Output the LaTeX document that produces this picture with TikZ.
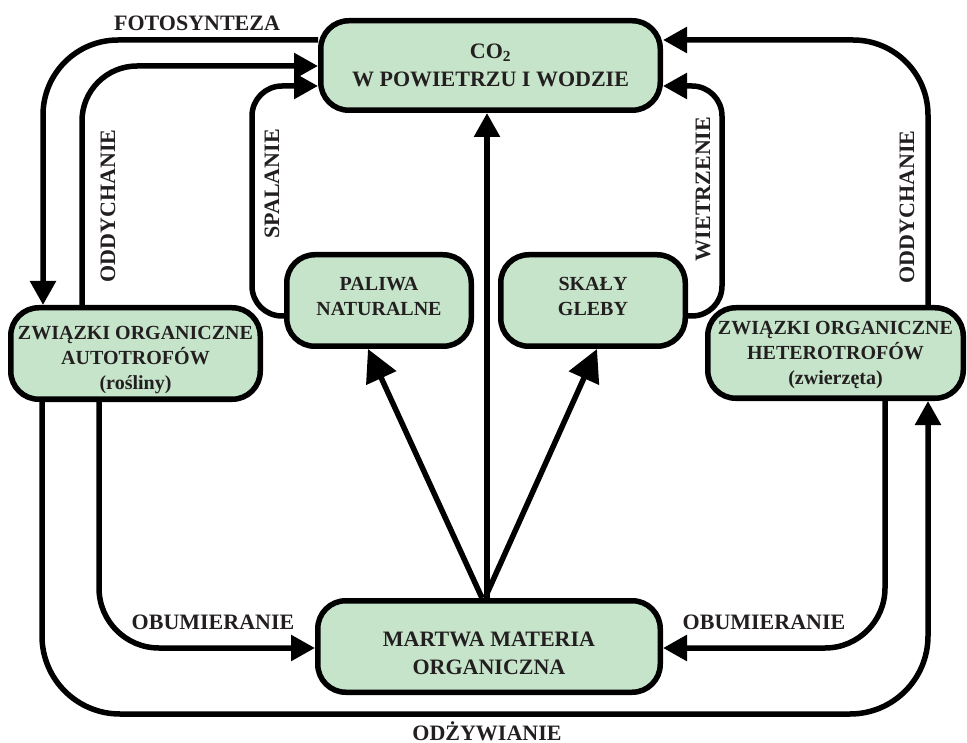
\documentclass[tikz,border=0pt]{standalone}
\usepackage{fontspec}
\setmainfont{Liberation Serif}
\usetikzlibrary{arrows.meta,backgrounds}
\definecolor{boxgreen}{RGB}{198,228,202}
\definecolor{ink}{RGB}{35,31,32}
\newcommand\dnstrut[1]{\rule{0pt}{#1}}
\newcommand\upstrut[1]{\rule[-#1]{0pt}{#1}}
\begin{document}
\begin{tikzpicture}[x=1pt,y=-1pt,
  box/.style={draw=black, fill=boxgreen, line width=5.5pt, rounded corners=28pt, inner sep=0pt, align=center, text=ink, font=\bfseries\fontsize{22}{28}\selectfont},
  smallbox/.style={box, font=\bfseries\fontsize{20}{25}\selectfont},
  conn/.style={draw=black, line width=5.5pt, -{Triangle[length=24pt,width=25pt]}},
  bigtip/.style={-{Triangle[length=32pt,width=32pt]}},
  lab/.style={text=ink, font=\bfseries\fontsize{22}{26}\selectfont, inner sep=0pt},
]
\useasboundingbox (0,0) rectangle (967,743);

\node[box, minimum width=339.5pt, minimum height=89.5pt] (co2) at (490.5,65.5) {CO\textsubscript{2}\\W POWIETRZU I WODZIE};
\node[smallbox, minimum width=184.5pt, minimum height=91.5pt] (paliwa) at (379,300.5) {PALIWA\\NATURALNE\upstrut{9pt}};
\node[smallbox, minimum width=184.5pt, minimum height=91.5pt] (skaly) at (593,300.5) {SKAŁY\\GLEBY\upstrut{9pt}};
\node[smallbox, minimum width=249.5pt, minimum height=91.5pt] (auto) at (135.5,353.5) {\dnstrut{26pt}ZWIĄZKI ORGANICZNE\\AUTOTROFÓW\\(rośliny)};
\node[smallbox, minimum width=255.5pt, minimum height=90.5pt] (hetero) at (835.5,353) {\dnstrut{18pt}ZWIĄZKI ORGANICZNE\\HETEROTROFÓW\\(zwierzęta)};
\node[box, minimum width=342.5pt, minimum height=91.5pt] (martwa) at (489,646.5) {\dnstrut{29pt}MARTWA MATERIA\\ORGANICZNA};

\begin{pgfonlayer}{background}
\draw[conn, rounded corners=75pt] (co2.west |- 0,40) -| (auto.north -| 43,0);
\draw[conn, rounded corners=55pt] (auto.north -| 82,0) |- (co2.west |- 0,66);
\draw[conn, rounded corners=30pt] (paliwa.west |- 0,316) -| (252,86) -- (co2.west |- 0,86);
\draw[conn, rounded corners=75pt] (hetero.north -| 928,0) |- (co2.east |- 0,40);
\draw[conn, rounded corners=30pt] (skaly.east |- 0,316) -| (722,86) -- (co2.east |- 0,86);
\draw[conn] (martwa.north -| 487,0) -- (co2.south -| 487,0);
\draw[conn, bigtip] (martwa.north -| 482,0) -- (paliwa.south -| 368,0);
\draw[conn, bigtip] (martwa.north -| 485,0) -- (skaly.south -| 597,0);
\draw[conn, rounded corners=60pt] (auto.south -| 99,0) |- (martwa.west |- 0,648);
\draw[conn, rounded corners=60pt] (hetero.south -| 885,0) |- (martwa.east |- 0,648);
\draw[conn, rounded corners=78pt] (auto.south -| 42,0) |- (600,714) -| (hetero.south -| 928,0);
\end{pgfonlayer}

\node[lab] (fotoLab) at (197,23) {FOTOSYNTEZA};
\node[lab, rotate=90] (oddL) at (108,206) {ODDYCHANIE};
\node[lab, rotate=90] (spal) at (272,184) {SPALANIE};
\node[lab, rotate=90] (wietrz) at (703,189) {WIETRZENIE};
\node[lab, rotate=90] (oddR) at (907,207) {ODDYCHANIE};
\node[lab] (obumL) at (213,622) {OBUMIERANIE};
\node[lab] (obumR) at (764,622) {OBUMIERANIE};
\node[lab, anchor=base] (odz) at (487,740) {ODŻYWIANIE};
\end{tikzpicture}
\end{document}
